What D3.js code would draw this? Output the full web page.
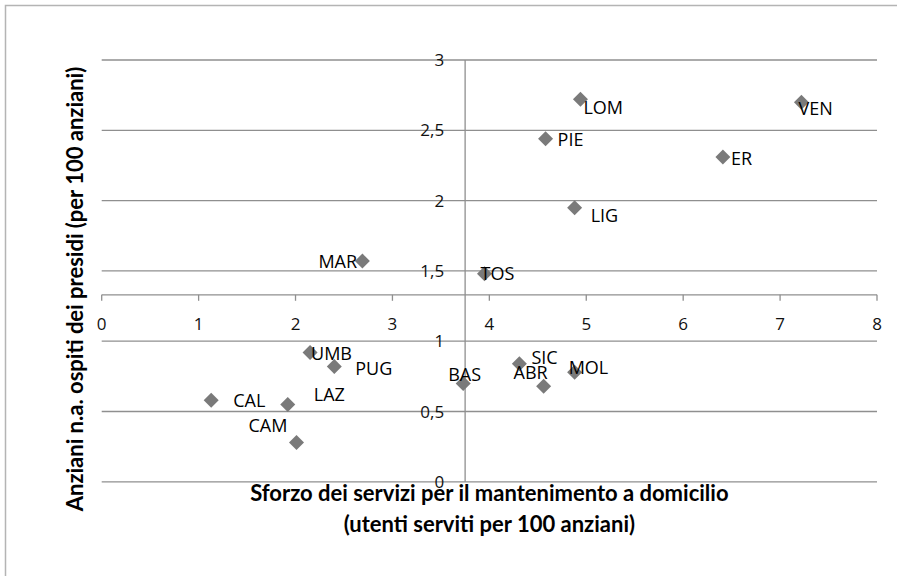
<!DOCTYPE html>
<html><head><meta charset="utf-8">
<script src="https://cdn.jsdelivr.net/npm/d3@7"></script>
<style>body{margin:0;background:#fff} svg{display:block}</style>
</head><body>
<svg width="897" height="576"></svg>
<script>
'use strict';
// data
let regions = ["LOM","VEN","PIE","ER","LIG","TOS","MAR","UMB","PUG","BAS","SIC","ABR","MOL","CAL","LAZ","CAM"]
let domicilio = [4.94,7.22,4.58,6.41,4.88,3.95,2.69,2.15,2.40,3.73,4.31,4.56,4.88,1.13,1.92,2.01]
let presidi = [2.72,2.70,2.44,2.31,1.95,1.48,1.57,0.92,0.82,0.70,0.84,0.68,0.78,0.58,0.55,0.28]
let xTicks = [0,1,2,3,4,5,6,7,8]
let yTicks = [0,0.5,1,1.5,2,2.5,3]
let xCross = 3.75, yCross = 1.33   // where the axes cross each other
let xTitle = ["Sforzo dei servizi per il mantenimento a domicilio", "(utenti serviti per 100 anziani)"]
let yTitle = "Anziani n.a. ospiti dei presidi (per 100 anziani)"

// hand-placed data labels, offset from the marker (px)
let labelOff = {LOM:[3,15], VEN:[-3,13], PIE:[12,7], ER:[8,8], LIG:[16,14], TOS:[-4,6],
	MAR:[-44,7], UMB:[1,8], PUG:[21,8], BAS:[-15,-2], SIC:[12,0], ABR:[-30,-7],
	MOL:[-6,2], CAL:[22,7], LAZ:[26,-3], CAM:[-48,-10]}

let eSvg = d3.select("svg")
let fmt = v => String(v).replace(".", ",")
let sGrid = "#8f8f8f"

let x = d3.scaleLinear().domain([0, 8]).range([101.7, 877])
let y = d3.scaleLinear().domain([0, 3]).range([481.8, 60])

// outer frame (runs off the right and bottom edge)
eSvg.append("rect").attr("x", 5.5).attr("y", 5.5).attr("width", 950).attr("height", 650)
	.attr("fill", "none").attr("stroke", "#b4b4b4").attr("stroke-width", 1.5)

// horizontal gridlines
eSvg.append("g").selectAll("line").data(yTicks).enter().append("line")
	.attr("x1", x(0)).attr("x2", x(8))
	.attr("y1", d => y(d)).attr("y2", d => y(d))
	.attr("stroke", sGrid).attr("stroke-width", 1.3)

// vertical axis at xCross
eSvg.append("line").attr("x1", x(xCross)).attr("x2", x(xCross))
	.attr("y1", y(0)).attr("y2", y(3)).attr("stroke", sGrid).attr("stroke-width", 1.3)
eSvg.append("g").selectAll("text").data(yTicks).enter().append("text")
	.attr("x", x(xCross) - 21).attr("y", d => y(d)).attr("dy", "0.36em")
	.attr("text-anchor", "end")
	.style("font", "17px 'Open Sans'").attr("fill", "#111")
	.text(fmt)

// horizontal axis at yCross
let gX = eSvg.append("g").attr("transform", `translate(0,${y(yCross)})`)
gX.append("line").attr("x1", x(0)).attr("x2", x(8)).attr("stroke", sGrid).attr("stroke-width", 1.3)
gX.selectAll("line.tick").data(xTicks).enter().append("line").attr("class", "tick")
	.attr("x1", d => x(d)).attr("x2", d => x(d)).attr("y1", 0).attr("y2", 6)
	.attr("stroke", sGrid).attr("stroke-width", 1.3)
gX.selectAll("text").data(xTicks).enter().append("text")
	.attr("x", d => x(d)).attr("y", 35).attr("text-anchor", "middle")
	.style("font", "17px 'Open Sans'").attr("fill", "#111")
	.text(fmt)

// markers
let tData = regions.map((r, i) => ({name: r, dx: domicilio[i], py: presidi[i]}))
eSvg.append("g").selectAll("rect").data(tData).enter().append("rect")
	.attr("x", -5.3).attr("y", -5.3).attr("width", 10.6).attr("height", 10.6)
	.attr("transform", d => `translate(${x(d.dx)},${y(d.py)}) rotate(45)`)
	.attr("fill", "#7a7a7a")

// labels
eSvg.append("g").selectAll("text").data(tData).enter().append("text")
	.attr("x", d => x(d.dx) + labelOff[d.name][0])
	.attr("y", d => y(d.py) + labelOff[d.name][1])
	.style("font", "18px 'Open Sans'").attr("fill", "#000")
	.text(d => d.name)

// axis titles
let cx = (x(0) + x(8)) / 2
eSvg.append("g").selectAll("text").data(xTitle).enter().append("text")
	.attr("x", cx).attr("y", (d, i) => 501 + i * 31).attr("text-anchor", "middle")
	.style("font", "bold 22px Lato").attr("fill", "#000")
	.text(d => d)

eSvg.append("text").attr("transform", "translate(83,289) rotate(-90)")
	.attr("text-anchor", "middle")
	.style("font", "bold 22px Lato").attr("fill", "#000")
	.text(yTitle)
</script>
</body></html>
